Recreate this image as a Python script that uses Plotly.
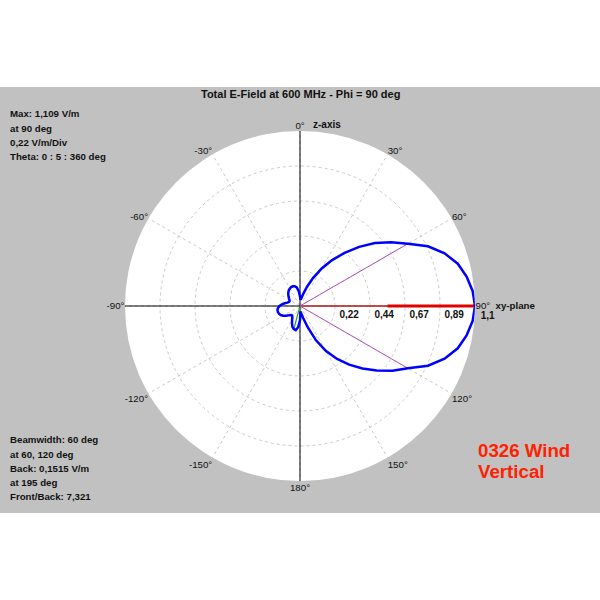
import plotly.graph_objects as go

# ---------------- data ----------------
theta_deg = list(range(0, 365, 5))
e_field = [
    0.06, 0.04, 0.05, 0.08, 0.13, 0.195, 0.275, 0.355, 0.44, 0.53,      # 0-45
    0.62, 0.705, 0.79, 0.895, 0.975, 1.035, 1.072, 1.098, 1.109,         # 50-90
    1.098, 1.072, 1.035, 0.975, 0.895, 0.79, 0.715, 0.635, 0.56,         # 95-135
    0.485, 0.41, 0.33, 0.24, 0.145, 0.08, 0.05, 0.035, 0.09,             # 140-180
    0.135, 0.155, 0.1515, 0.14, 0.12, 0.10, 0.085, 0.078, 0.08,          # 185-225
    0.092, 0.108, 0.123, 0.135, 0.142, 0.145, 0.145, 0.14, 0.13,         # 230-270
    0.115, 0.098, 0.083, 0.075, 0.073, 0.077, 0.085, 0.095, 0.105,       # 275-315
    0.115, 0.123, 0.128, 0.132, 0.133, 0.13, 0.12, 0.095, 0.06,          # 320-360
]
max_value = 1.109
max_angle = 90
half_power_angles = [60, 120]
back_value = 0.1515
back_angle = 195

angle_ticks = [0, 30, 60, 90, 120, 150, 180, 210, 240, 270, 300, 330]
angle_labels = ["0°", "30°", "60°", "90°  <b>xy-plane</b>", "120°", "150°", "180°",
                "-150°", "-120°", "-90°", "-60°", "-30°"]
radial_ticks = [0.2218, 0.4436, 0.6654, 0.8872]
radial_labels = ["0,22", "0,44", "0,67", "0,89"]
outer_tick = 1.109
outer_label = "1,1"

title_text = "Total E-Field at 600 MHz - Phi = 90 deg"
info_top = ["Max: 1,109 V/m", "at 90 deg", "0,22 V/m/Div", "Theta: 0 : 5 : 360 deg"]
info_bottom = ["Beamwidth: 60 deg", "at 60, 120 deg", "Back: 0,1515 V/m",
               "at 195 deg", "Front/Back: 7,321"]
label_lines = ["0326 Wind", "Vertical"]

# ---------------- figure ----------------
FONT = "Liberation Sans"
fig = go.Figure()

# black axis cross
fig.add_trace(go.Scatterpolar(r=[max_value, 0, max_value], theta=[0, 0, 180], mode="lines",
                              line=dict(color="black", width=1), hoverinfo="skip", showlegend=False))
fig.add_trace(go.Scatterpolar(r=[max_value, 0, max_value], theta=[270, 0, 90], mode="lines",
                              line=dict(color="black", width=1), hoverinfo="skip", showlegend=False))

# max direction: thin red line then thick red segment
fig.add_trace(go.Scatterpolar(r=[0, max_value], theta=[max_angle, max_angle], mode="lines",
                              line=dict(color="#FF2020", width=1), showlegend=False))
fig.add_trace(go.Scatterpolar(r=[max_value / 2, max_value], theta=[max_angle, max_angle], mode="lines",
                              line=dict(color="#E00000", width=3), showlegend=False))

# half-power beamwidth lines
for a in half_power_angles:
    rv = e_field[theta_deg.index(a)]
    fig.add_trace(go.Scatterpolar(r=[0, rv], theta=[a, a], mode="lines",
                                  line=dict(color="#B050C0", width=1), showlegend=False))

# back line
fig.add_trace(go.Scatterpolar(r=[0, back_value], theta=[back_angle, back_angle], mode="lines",
                              line=dict(color="#20A020", width=1.2), showlegend=False))

# pattern
fig.add_trace(go.Scatterpolar(r=e_field, theta=theta_deg, mode="lines",
                              line=dict(color="#0000FF", width=2.5), showlegend=False))

# radial tick labels (invisible markers just offset the text)
fig.add_trace(go.Scatterpolar(r=radial_ticks, theta=[max_angle] * len(radial_ticks),
                              mode="markers+text",
                              marker=dict(size=5.5, color="rgba(0,0,0,0)"),
                              text=["<b>%s</b>" % t for t in radial_labels],
                              textposition="bottom right", cliponaxis=False,
                              textfont=dict(family=FONT, size=10, color="#111111"),
                              hoverinfo="skip", showlegend=False))
fig.add_trace(go.Scatterpolar(r=[outer_tick], theta=[max_angle],
                              mode="markers+text",
                              marker=dict(size=7.5, color="rgba(0,0,0,0)"),
                              text=["<b>%s</b>" % outer_label],
                              textposition="bottom right", cliponaxis=False,
                              textfont=dict(family=FONT, size=10, color="#111111"),
                              hoverinfo="skip", showlegend=False))

fig.update_layout(
    width=600, height=600,
    margin=dict(l=0, r=0, t=0, b=0),
    paper_bgcolor="white",
    polar=dict(
        domain=dict(x=[125 / 600, 475 / 600], y=[119 / 600, 469 / 600]),
        bgcolor="white",
        angularaxis=dict(rotation=90, direction="clockwise",
                         tickmode="array", tickvals=angle_ticks, ticktext=angle_labels,
                         showline=False, ticks="",
                         gridcolor="#CACACA", griddash="3px,3px", gridwidth=1,
                         tickfont=dict(family=FONT, size=9.7, color="#111111")),
        radialaxis=dict(range=[0, max_value], tickmode="array", tickvals=radial_ticks + [outer_tick],
                        showticklabels=False, ticks="", showline=False, angle=0,
                        gridcolor="#CACACA", griddash="3px,3px", gridwidth=1),
    ),
    shapes=[dict(type="rect", xref="paper", yref="paper", x0=0, x1=1,
                 y0=(600 - 513) / 600, y1=(600 - 87) / 600,
                 fillcolor="#C1C1C1", line=dict(width=0), layer="below")],
)

ann = []
ann.append(dict(text="<b>%s</b>" % title_text, x=0.5, y=1 - 94 / 600, xref="paper", yref="paper",
                showarrow=False, xanchor="center", yanchor="middle",
                font=dict(family=FONT, size=11, color="#111111")))
ann.append(dict(text="<b>z-axis</b>", x=311 / 600, y=1 - 124 / 600, xref="paper", yref="paper",
                showarrow=False, xanchor="left", yanchor="middle",
                font=dict(family=FONT, size=10, color="#111111")))
for i, line in enumerate(info_top):
    ann.append(dict(text="<b>%s</b>" % line, x=8 / 600, y=1 - (114 + 14 * i) / 600,
                    xref="paper", yref="paper", showarrow=False, xanchor="left", yanchor="middle",
                    font=dict(family=FONT, size=9.7, color="#111111")))
for i, line in enumerate(info_bottom):
    ann.append(dict(text="<b>%s</b>" % line, x=8 / 600, y=1 - (440 + 14 * i) / 600,
                    xref="paper", yref="paper", showarrow=False, xanchor="left", yanchor="middle",
                    font=dict(family=FONT, size=9.7, color="#111111")))
for i, line in enumerate(label_lines):
    ann.append(dict(text="<b>%s</b>" % line, x=476 / 600, y=1 - (450 + 21 * i) / 600,
                    xref="paper", yref="paper", showarrow=False, xanchor="left", yanchor="middle",
                    font=dict(family=FONT, size=18.7, color="#FF2200")))
fig.update_layout(annotations=ann)

fig.write_html("out.html", config={"displayModeBar": False},
               post_script="document.body.style.margin='0px';")
